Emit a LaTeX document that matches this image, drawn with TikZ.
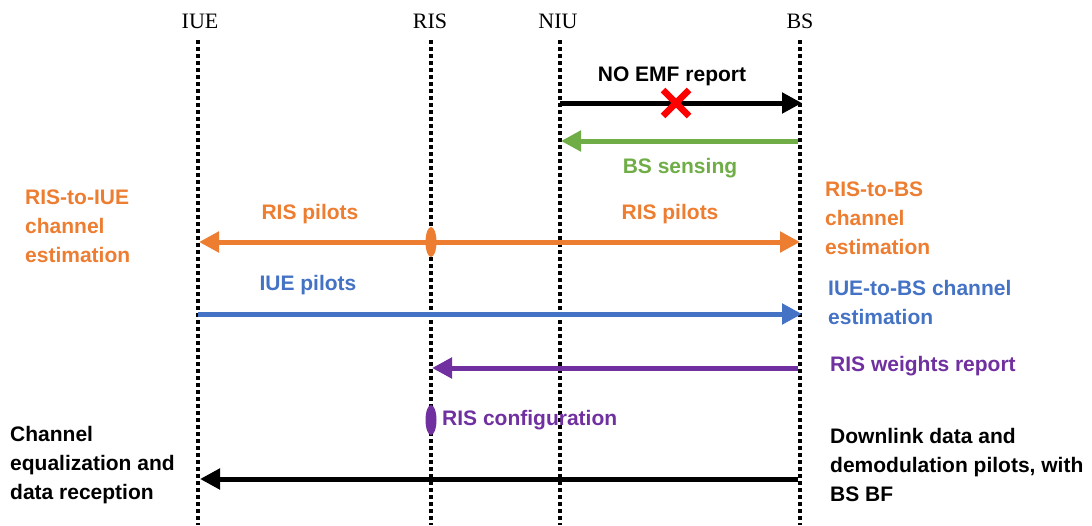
\documentclass[tikz,border=0pt]{standalone}
\usepackage{fontspec}
\setmainfont{Liberation Serif}
\newfontfamily\lblfont{Liberation Sans}
\usetikzlibrary{arrows.meta,shapes.geometric}
\definecolor{cOrange}{HTML}{ED7D31}
\definecolor{cGreen}{HTML}{70AD47}
\definecolor{cBlue}{HTML}{4472C4}
\definecolor{cPurple}{HTML}{7030A0}
\tikzset{
  head/.style={font=\fontsize{22}{26}\selectfont, inner sep=0pt},
  life/.style={line width=3.5pt, dash pattern=on 3.5pt off 3.5pt, black},
  msg/.style={line width=5pt, -{Triangle[length=20pt,width=20pt]}},
  dmsg/.style={line width=5pt, {Triangle[length=20pt,width=20pt]}-{Triangle[length=20pt,width=20pt]}},
  lbl/.style={font=\lblfont\bfseries\fontsize{21}{29}\selectfont, inner sep=0pt, align=left},
  dotmark/.style={ellipse, minimum width=11pt, minimum height=30pt, inner sep=0pt},
}
\begin{document}
\begin{tikzpicture}[x=1pt,y=-1pt]
\useasboundingbox (0,0) rectangle (1092,525);
% entity headers
\node[head] (hIUE) at (200,21) {IUE};
\node[head] (hRIS) at (430,21) {RIS};
\node[head] (hNIU) at (558,21) {NIU};
\node[head] (hBS)  at (800,21) {BS};
% lifelines
\coordinate (iueT) at (198,40); \coordinate (iueB) at (198,525);
\coordinate (risT) at (431,40); \coordinate (risB) at (431,525);
\coordinate (niuT) at (560,40); \coordinate (niuB) at (560,525);
\coordinate (bsT)  at (800,40); \coordinate (bsB)  at (800,525);
\draw[life] (iueT) -- (iueB);
\draw[life] (risT) -- (risB);
\draw[life] (niuT) -- (niuB);
\draw[life] (bsT) -- (bsB);
% NO EMF report (blocked)
\coordinate (emfA) at (560,103); \coordinate (emfB) at (802,103);
\draw[msg, black] (emfA) -- (emfB);
\node[lbl] (emfL) at (672,76) {NO EMF report};
\coordinate (xC) at (676,103);
\draw[red, line width=6.5pt] ([shift={(-13,-13)}]xC) -- ([shift={(13,13)}]xC);
\draw[red, line width=6.5pt] ([shift={(-13,13)}]xC) -- ([shift={(13,-13)}]xC);
% BS sensing
\coordinate (senA) at (798,141); \coordinate (senB) at (561,141);
\draw[msg, cGreen] (senA) -- (senB);
\node[lbl, text=cGreen] (senL) at (680,168) {BS sensing};
% RIS pilots
\coordinate (rpA) at (199,242); \coordinate (rpB) at (800,242);
\draw[dmsg, cOrange] (rpA) -- (rpB);
\node[dotmark, fill=cOrange] (rpM) at (431,242) {};
\node[lbl, text=cOrange] (rpL1) at (310,214) {RIS pilots};
\node[lbl, text=cOrange] (rpL2) at (670,214) {RIS pilots};
\node[lbl, text=cOrange, anchor=west] (rpIUE) at (25,226) {RIS-to-IUE\\channel\\estimation};
\node[lbl, text=cOrange, anchor=west] (rpBS) at (825,218) {RIS-to-BS\\channel\\estimation};
% IUE pilots
\coordinate (ipA) at (198,314); \coordinate (ipB) at (802,314);
\draw[msg, cBlue] (ipA) -- (ipB);
\node[lbl, text=cBlue] (ipL) at (308,285) {IUE pilots};
\node[lbl, text=cBlue, anchor=west] (ipBS) at (828,302) {IUE-to-BS channel\\estimation};
% RIS weights report
\coordinate (rwA) at (798,368); \coordinate (rwB) at (432,368);
\draw[msg, cPurple] (rwA) -- (rwB);
\node[lbl, text=cPurple, anchor=west] (rwL) at (830,366) {RIS weights report};
% RIS configuration
\node[dotmark, fill=cPurple] (rcM) at (431,420) {};
\node[lbl, text=cPurple, anchor=west] (rcL) at (442,420) {RIS configuration};
% downlink data
\coordinate (dlA) at (798,479); \coordinate (dlB) at (200,479);
\draw[msg, black] (dlA) -- (dlB);
\node[lbl, anchor=west] (dlIUE) at (10,465) {Channel\\equalization and\\data reception};
\node[lbl, anchor=west] (dlBS) at (830,465) {Downlink data and\\demodulation pilots, with\\BS BF};
\end{tikzpicture}
\end{document}
